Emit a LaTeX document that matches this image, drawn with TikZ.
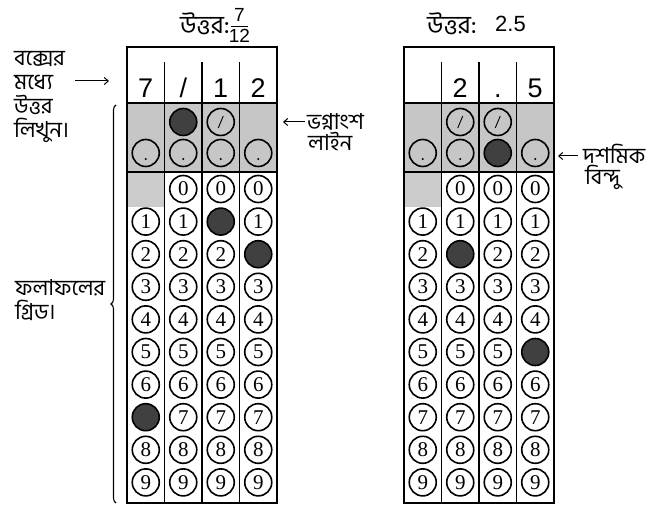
\documentclass[tikz,border=0pt]{standalone}
\usepackage{fontspec}
\setmainfont{Liberation Sans}
\newfontfamily\bn[Script=Bengali]{Hind Siliguri}
\newfontfamily\dg{Liberation Serif}
\usetikzlibrary{arrows.meta,decorations.pathreplacing}
\definecolor{gridgray}{RGB}{198,198,198}
\definecolor{gridgrayb}{RGB}{204,204,204}
\definecolor{ink}{RGB}{64,64,64}
\begin{document}
\begin{tikzpicture}[x=1pt,y=-1pt,
  bub/.style={circle,draw,line width=1.6pt,minimum size=27pt,inner sep=0pt,font=\dg\fontsize{21}{21}\selectfont},
  fillbub/.style={bub,fill=ink},
  frame/.style={line width=1.4pt},
  divider/.style={line width=1.1pt},
  lbl/.style={font=\bn\fontsize{22}{24}\selectfont,align=left,inner sep=0pt},
  lbltight/.style={lbl,font=\bn\fontsize{22}{21}\selectfont},
  big/.style={font=\fontsize{27}{27}\selectfont,anchor=base,inner sep=0pt},
  ttl/.style={font=\bn\fontsize{25}{25}\selectfont,inner sep=0pt},
  frac/.style={font=\fontsize{19}{19}\selectfont,inner sep=0pt},
  pointer/.style={-{Straight Barb[length=4pt,width=7pt]},line width=1pt},
]
\useasboundingbox (0,0) rectangle (670,510);

% ---------- left grid ----------
\fill[gridgray] (127,103) rectangle (277,172);
\fill[gridgrayb] (127,172) rectangle (164.5,207);
\draw[frame] (127,47) rectangle (277,503);
\draw[divider] (127,103) -- (277,103);
\draw[line width=1.8pt] (127,172) -- (277,172);
\foreach \i in {1,2,3} \draw[divider] (127+37.5*\i,62) -- (127+37.5*\i,503);

\node[big] (L1t) at (145.75,98) {7};
\node[big] (L2t) at (183.25,98) {/};
\node[big] (L3t) at (220.75,98) {1};
\node[big] (L4t) at (258.25,98) {2};

% slash row
\node[fillbub] (L2s) at (183.25,122) {};
\node[bub] (L3s) at (220.75,122) {};
\draw[line width=0.9pt] ([shift={(-2.5,6)}]L3s.center) -- ([shift={(2.5,-6)}]L3s.center);
% dot row
\foreach \c in {1,2,3,4}{
  \pgfmathsetmacro\xx{127+37.5*\c-18.75}
  \node[bub] (L\c p) at (\xx,153) {};
  \fill ([shift={(0,6)}]L\c p.center) circle (1.2);
}
% digit rows
\foreach \c/\f in {1/7,2/10,3/1,4/2}{
  \foreach \d in {0,...,9}{
    \pgfmathsetmacro\xx{127+37.5*\c-18.75}
    \pgfmathsetmacro\yy{189+32.6*\d}
    \ifnum\d=\f
      \node[fillbub] (L\c\d) at (\xx,\yy) {};
    \else
      \ifnum\c\d=10 \else
        \node[bub] (L\c\d) at (\xx,\yy) {\d};
      \fi
    \fi
  }
}

% ---------- right grid ----------
\fill[gridgray] (404,103) rectangle (554,172);
\fill[gridgrayb] (404,172) rectangle (441.5,207);
\draw[frame] (404,47) rectangle (554,503);
\draw[divider] (404,103) -- (554,103);
\draw[line width=1.8pt] (404,172) -- (554,172);
\foreach \i in {1,2,3} \draw[divider] (404+37.5*\i,62) -- (404+37.5*\i,503);

\node[big] (R2t) at (460.25,98) {2};
\node[big] (R3t) at (497.75,98) {.};
\node[big] (R4t) at (535.25,98) {5};

\foreach \c in {2,3}{
  \pgfmathsetmacro\xx{404+37.5*\c-18.75}
  \node[bub] (R\c s) at (\xx,122) {};
  \draw[line width=0.9pt] ([shift={(-2.5,6)}]R\c s.center) -- ([shift={(2.5,-6)}]R\c s.center);
}
\foreach \c in {1,2,4}{
  \pgfmathsetmacro\xx{404+37.5*\c-18.75}
  \node[bub] (R\c p) at (\xx,153) {};
  \fill ([shift={(0,6)}]R\c p.center) circle (1.2);
}
\node[fillbub] (R3p) at (497.75,153) {};
\foreach \c/\f in {1/10,2/2,3/10,4/5}{
  \foreach \d in {0,...,9}{
    \pgfmathsetmacro\xx{404+37.5*\c-18.75}
    \pgfmathsetmacro\yy{189+32.6*\d}
    \ifnum\d=\f
      \node[fillbub] (R\c\d) at (\xx,\yy) {};
    \else
      \ifnum\c\d=10 \else
        \node[bub] (R\c\d) at (\xx,\yy) {\d};
      \fi
    \fi
  }
}

% ---------- titles ----------
\node[ttl,anchor=east] (t1) at (230,24) {উত্তর:};
\node[frac] (fn) at (239.5,15) {7};
\node[frac] (fd) at (239.5,36) {12};
\coordinate (fa) at (231,26);
\coordinate (fb) at (248,26);
\draw[line width=0.8pt] (fa) -- (fb);
\node[ttl,anchor=west] (t2) at (427,24) {উত্তর:};
\node[font=\fontsize{22}{22}\selectfont,inner sep=0pt,anchor=west] (t2v) at (495,24) {2.5};

% ---------- labels ----------
\node[lbl,anchor=west] (write) at (14,97) {বক্সের\\মধ্যে\\উত্তর\\লিখুন।};
\coordinate (writeA) at (75,81);
\coordinate (writeB) at (109,81);
\draw[pointer] (writeA) -- (writeB);

\node[lbl,anchor=west] (gridlbl) at (15,300) {ফলাফলের\\গ্রিড।};
\coordinate (brB) at (116,503);
\coordinate (brT) at (116,105);
\draw[line width=1.1pt,decorate,decoration={brace,amplitude=5pt}] (brB) -- (brT);

\node[lbltight,anchor=west] (fracl) at (307,132) {ভগ্নাংশ\\\hspace*{1pt}লাইন};
\coordinate (fracA) at (305,122);
\coordinate (fracB) at (283,122);
\draw[pointer] (fracA) -- (fracB);

\node[lbltight,anchor=west] (decl) at (583,167) {দশমিক\\\hspace*{2pt}বিন্দু};
\coordinate (decA) at (578,156);
\coordinate (decB) at (558,156);
\draw[pointer] (decA) -- (decB);
\end{tikzpicture}
\end{document}
